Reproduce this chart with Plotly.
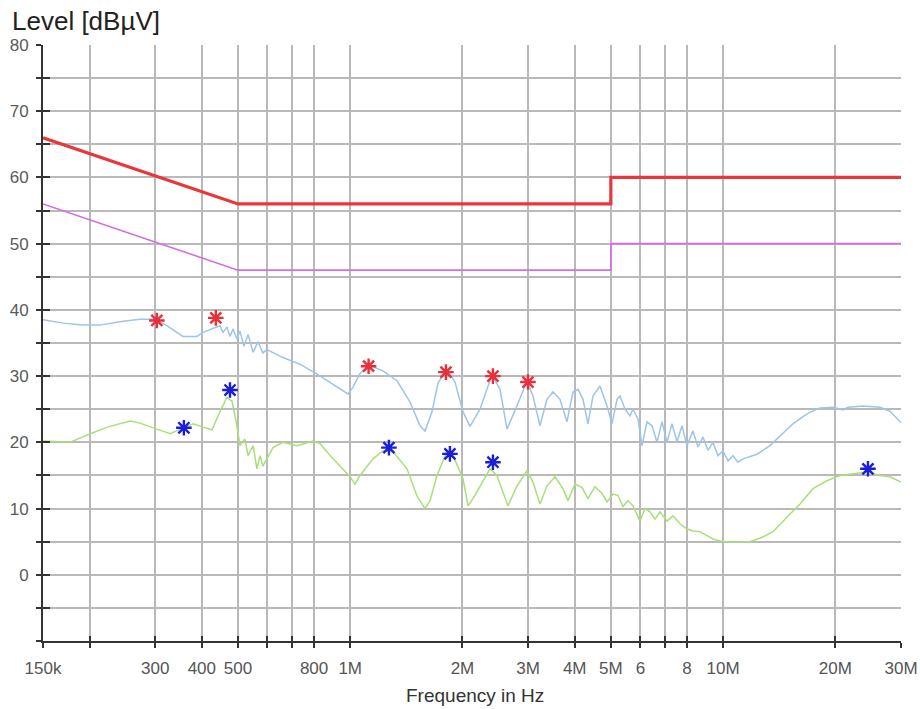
import math
import plotly.graph_objects as go

# ---- Limit lines (EN 55032 class B style, conducted) ----
lim_qp_freq_mhz = [0.15, 0.5, 5.0, 5.0, 30.0]
lim_qp_level = [66, 56, 56, 60, 60]
lim_av_freq_mhz = [0.15, 0.5, 5.0, 5.0, 30.0]
lim_av_level = [56, 46, 46, 50, 50]

# ---- Peak / QP pre-scan trace ----
qp_freq_mhz = [
    0.150, 0.170, 0.192, 0.213, 0.246, 0.273, 0.300, 0.323, 0.356, 0.388,
    0.403, 0.429, 0.447, 0.456, 0.467, 0.476, 0.485, 0.497, 0.506, 0.519,
    0.532, 0.549, 0.566, 0.583, 0.598, 0.660, 0.733, 0.815, 0.899, 0.986,
    1.017, 1.062, 1.130, 1.224, 1.335, 1.446, 1.539, 1.587, 1.657, 1.720,
    1.818, 1.910, 2.007, 2.095, 2.229, 2.400, 2.522, 2.633, 2.800, 2.979,
    3.091, 3.228, 3.370, 3.498, 3.652, 3.813, 3.957, 4.081, 4.210, 4.341,
    4.478, 4.676, 4.883, 5.036, 5.194, 5.291, 5.457, 5.628, 5.733, 5.913,
    6.060, 6.251, 6.446, 6.650, 6.857, 7.072, 7.294, 7.521, 7.757, 8.000,
    8.302, 8.562, 8.832, 9.108, 9.393, 9.687, 9.991, 10.31, 10.63, 10.96,
    11.31, 12.32, 13.36, 14.21, 15.39, 16.79, 18.19, 19.71, 20.96, 21.63,
    23.72, 26.34, 28.02, 30.00,
]
qp_level = [
    38.5, 38.0, 37.7, 37.7, 38.3, 38.6, 38.6, 37.6, 36.0, 36.0,
    36.6, 37.2, 37.6, 36.6, 37.4, 36.0, 37.1, 35.6, 36.8, 34.5,
    36.3, 33.6, 35.2, 33.5, 34.0, 32.8, 31.8, 30.3, 28.8, 27.3,
    28.3, 30.4, 31.6, 30.8, 29.3, 26.1, 22.5, 21.7, 24.6, 29.0,
    31.0, 29.1, 24.6, 22.4, 25.0, 30.2, 28.0, 22.0, 25.5, 29.3,
    27.0, 22.5, 26.5, 27.6, 26.5, 23.1, 27.6, 28.0, 26.5, 22.8,
    27.0, 28.5, 25.5, 22.8, 26.5, 27.0, 25.0, 24.0, 25.0, 23.5,
    19.5, 23.1, 22.5, 20.0, 23.1, 20.0, 22.8, 20.1, 22.5, 19.5,
    21.7, 19.3, 20.8, 18.8, 20.0, 18.0, 18.7, 17.2, 18.0, 17.0,
    17.5, 18.2, 19.5, 21.0, 22.8, 24.3, 25.2, 25.3, 24.9, 25.3,
    25.5, 25.3, 24.7, 23.0,
]

# ---- Average pre-scan trace ----
av_freq_mhz = [
    0.150, 0.177, 0.201, 0.223, 0.257, 0.273, 0.303, 0.329, 0.350, 0.379,
    0.403, 0.426, 0.447, 0.467, 0.482, 0.497, 0.506, 0.522, 0.532, 0.549,
    0.562, 0.573, 0.583, 0.598, 0.621, 0.660, 0.720, 0.795, 0.830, 0.883,
    0.956, 0.999, 1.030, 1.062, 1.151, 1.224, 1.302, 1.420, 1.510, 1.587,
    1.637, 1.709, 1.818, 1.887, 2.007, 2.070, 2.161, 2.370, 2.475, 2.649,
    2.800, 2.979, 3.091, 3.228, 3.370, 3.541, 3.720, 3.837, 4.006, 4.183,
    4.341, 4.533, 4.734, 4.883, 5.067, 5.225, 5.389, 5.559, 5.733, 5.985,
    6.174, 6.368, 6.567, 6.773, 7.072, 7.340, 7.662, 8.000, 8.302, 8.670,
    9.051, 9.393, 9.991, 10.89, 11.81, 12.79, 13.61, 14.83, 16.08, 17.42,
    18.99, 20.58, 22.30, 24.32, 26.34, 28.02, 30.00,
]
av_level = [
    20.2, 20.0, 21.3, 22.3, 23.2, 22.9, 22.0, 21.3, 22.0, 22.8,
    22.3, 21.9, 24.6, 26.8, 26.2, 22.5, 19.5, 20.5, 18.0, 19.5,
    16.0, 18.0, 16.4, 17.5, 19.2, 20.0, 19.5, 20.2, 19.8, 18.0,
    16.0, 14.8, 13.7, 15.0, 17.5, 18.7, 18.6, 16.0, 11.9, 10.0,
    11.2, 15.0, 18.7, 18.0, 14.5, 10.4, 12.0, 16.0, 15.0, 10.4,
    13.4, 15.7, 14.0, 10.7, 13.4, 14.8, 13.0, 11.2, 13.7, 13.2,
    11.5, 13.3, 12.3, 11.0, 12.2, 12.0, 10.3, 11.2, 10.4, 8.1,
    10.0, 9.5, 8.4, 9.5, 8.1, 8.9, 7.7, 6.9, 6.6, 6.5,
    5.9, 5.4, 5.0, 5.0, 5.0, 5.7, 6.5, 8.7, 10.7, 13.0,
    14.2, 15.0, 15.2, 15.5, 15.0, 14.8, 14.0,
]

# ---- Final measurement markers ----
qp_mark_freq_mhz = [0.303, 0.436, 1.12, 1.806, 2.414, 2.997]
qp_mark_level = [38.4, 38.8, 31.5, 30.6, 30.0, 29.1]
av_mark_freq_mhz = [0.358, 0.476, 1.27, 1.851, 2.414, 24.46]
av_mark_level = [22.2, 27.9, 19.2, 18.25, 17.0, 16.0]

# ---- Axis ticks ----
x_tick_vals = [0.15, 0.2, 0.3, 0.4, 0.5, 0.6, 0.7, 0.8, 1, 2, 3, 4, 5, 6, 7, 8, 10, 20, 30]
x_tick_text = ["150k", "", "300", "400", "500", "", "", "800", "1M", "2M", "3M",
               "4M", "5M", "6", "", "8", "10M", "20M", "30M"]
y_tick_vals = list(range(-10, 85, 5))
y_tick_text = [str(v) if (v % 10 == 0 and v >= 0) else "" for v in y_tick_vals]

X_RANGE = [math.log10(0.15), math.log10(30)]
Y_RANGE = [-10, 80]

AXIS_COL = "#333333"
GRID_COL = "#b9b9b9"
FONT = "Liberation Sans, Arial, sans-serif"
QP_MARK_COL = "#e8303a"
AV_MARK_COL = "#1c1ed8"

fig = go.Figure()

fig.add_trace(go.Scatter(x=qp_freq_mhz, y=qp_level, mode="lines",
                         line=dict(color="#9ec4ea", width=1.5), hoverinfo="skip"))
fig.add_trace(go.Scatter(x=av_freq_mhz, y=av_level, mode="lines",
                         line=dict(color="#a9df78", width=1.5), hoverinfo="skip"))
fig.add_trace(go.Scatter(x=lim_av_freq_mhz, y=lim_av_level, mode="lines",
                         line=dict(color="#d46ee0", width=1.6), hoverinfo="skip"))
fig.add_trace(go.Scatter(x=lim_qp_freq_mhz, y=lim_qp_level, mode="lines",
                         line=dict(color="#e8363c", width=3.2), hoverinfo="skip"))
fig.add_trace(go.Scatter(x=qp_mark_freq_mhz, y=qp_mark_level, mode="markers",
                         marker=dict(symbol="asterisk-open", size=13, color=QP_MARK_COL,
                                     line=dict(color=QP_MARK_COL, width=2.4)),
                         hoverinfo="skip"))
fig.add_trace(go.Scatter(x=av_mark_freq_mhz, y=av_mark_level, mode="markers",
                         marker=dict(symbol="asterisk-open", size=13, color=AV_MARK_COL,
                                     line=dict(color=AV_MARK_COL, width=2.4)),
                         hoverinfo="skip"))
# empty trace that carries the inner tick marks axes
fig.add_trace(go.Scatter(x=[], y=[], xaxis="x2", yaxis="y2", hoverinfo="skip"))

common = dict(showline=True, linecolor=AXIS_COL, linewidth=2, zeroline=False,
              ticks="outside", ticklen=5, tickwidth=2, tickcolor=AXIS_COL,
              gridcolor=GRID_COL, gridwidth=1.5, showgrid=True, automargin=False)

fig.update_layout(
    width=920, height=709,
    margin=dict(l=43, r=19, t=45, b=68),
    paper_bgcolor="white", plot_bgcolor="white",
    showlegend=False,
    font=dict(family=FONT),
    xaxis=dict(type="log", range=X_RANGE, tickmode="array",
               tickvals=x_tick_vals, ticktext=x_tick_text,
               tickfont=dict(size=17, color="#555555"),
               ticklabelstandoff=6, **common),
    yaxis=dict(range=Y_RANGE, tickmode="array",
               tickvals=y_tick_vals, ticktext=y_tick_text,
               tickfont=dict(size=17, color="#5a5a5a"),
               ticklabelstandoff=4, **common),
    xaxis2=dict(type="log", range=X_RANGE, overlaying="x", anchor="y2", side="bottom",
                tickmode="array", tickvals=x_tick_vals, showticklabels=False,
                ticks="inside", ticklen=5, tickwidth=2, tickcolor=AXIS_COL,
                showgrid=False, showline=False, zeroline=False, automargin=False),
    yaxis2=dict(range=Y_RANGE, overlaying="y", anchor="x2", side="left",
                tickmode="array", tickvals=y_tick_vals, showticklabels=False,
                ticks="inside", ticklen=7, tickwidth=2, tickcolor=AXIS_COL,
                showgrid=False, showline=False, zeroline=False, automargin=False),
    annotations=[
        dict(text="Level [dBµV]", xref="paper", yref="paper",
             x=(10 - 43) / 858, y=(641 - 21) / 596, xanchor="left", yanchor="middle",
             showarrow=False, font=dict(size=26, color="#222222", family=FONT)),
        dict(text="Frequency in Hz", xref="paper", yref="paper",
             x=(475 - 43) / 858, y=(641 - 695) / 596, xanchor="center", yanchor="middle",
             showarrow=False, font=dict(size=19, color="#333333", family=FONT)),
    ],
)

fig.write_html("out.html")
